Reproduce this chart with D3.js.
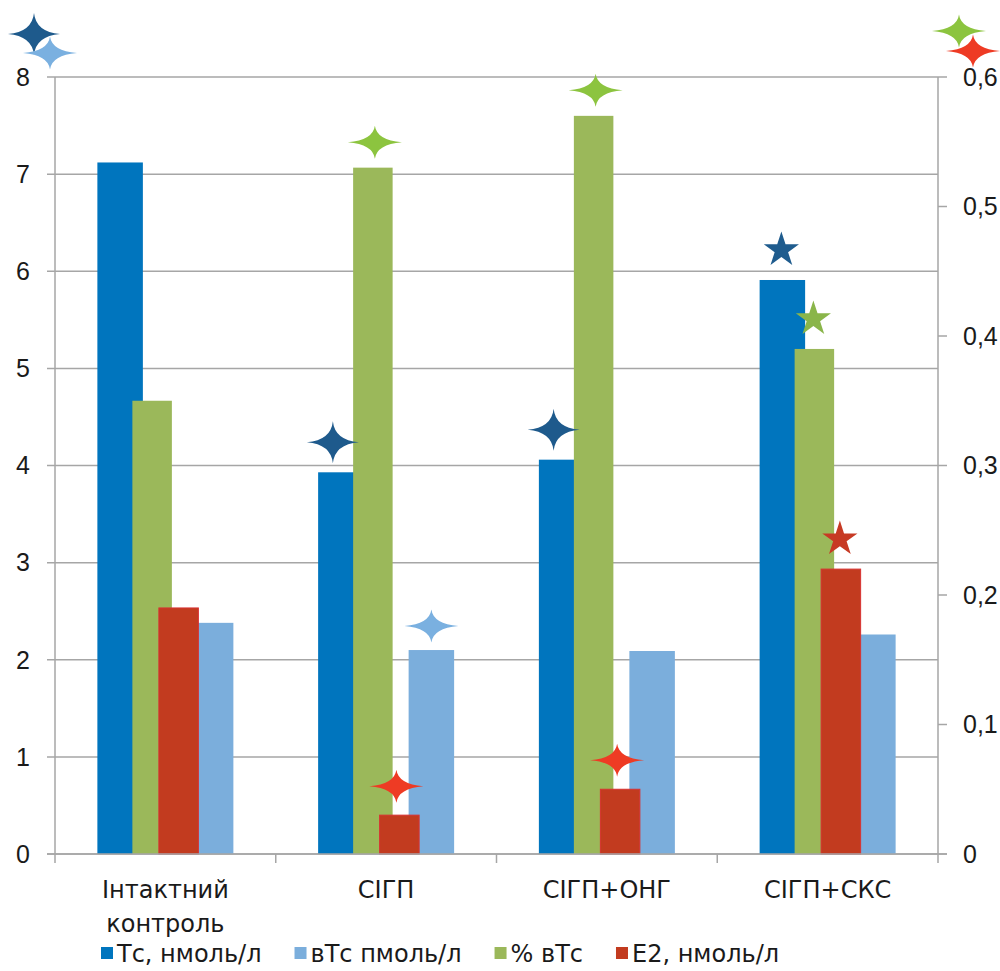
<!DOCTYPE html>
<html>
<head>
<meta charset="utf-8">
<script src="https://cdn.jsdelivr.net/npm/d3@7"></script>
<style>
  html, body { margin: 0; padding: 0; background: #fff; }
  #chart text { font-family: "Liberation Sans", Arial, sans-serif; }
  #chart .wide text { font-family: "DejaVu Sans", "Liberation Sans", sans-serif; }
</style>
</head>
<body>
<svg id="chart" width="1000" height="971"></svg>
<script>
// Groups and their two-line captions
const categories = ["Інтактний контроль", "СІГП", "СІГП+ОНГ", "СІГП+СКС"];
const categoryLines = [["Інтактний", "контроль"], ["СІГП"], ["СІГП+ОНГ"], ["СІГП+СКС"]];

// Left axis series
const tcValues  = [7.12, 3.93, 4.06, 5.91];   // Тс, нмоль/л
const vtcValues = [2.38, 2.10, 2.09, 2.26];   // вТс, пмоль/л
// Right axis series
const pctValues = [0.35, 0.53, 0.57, 0.39];   // % вТс
const e2Values  = [0.19, 0.03, 0.05, 0.22];   // Е2, нмоль/л

const leftTicks  = [0, 1, 2, 3, 4, 5, 6, 7, 8];
const rightTicks = [0, 0.1, 0.2, 0.3, 0.4, 0.5, 0.6];

const legendLabels = ["Тс, нмоль/л", "вТс пмоль/л", "% вТс", "Е2, нмоль/л"];
const legendKeys   = ["tc", "vtc", "pct", "e2"];

// Significance marks placed over bars: group index, series, glyph
const marks = [
  { cat: 1, series: "tc",  glyph: "sparkle" },
  { cat: 1, series: "pct", glyph: "sparkle" },
  { cat: 1, series: "e2",  glyph: "sparkle" },
  { cat: 1, series: "vtc", glyph: "sparkle" },
  { cat: 2, series: "tc",  glyph: "sparkle" },
  { cat: 2, series: "pct", glyph: "sparkle" },
  { cat: 2, series: "e2",  glyph: "sparkle" },
  { cat: 3, series: "tc",  glyph: "star" },
  { cat: 3, series: "pct", glyph: "star" },
  { cat: 3, series: "e2",  glyph: "star" }
];

const values = { tc: tcValues, vtc: vtcValues, pct: pctValues, e2: e2Values };

const barColor = { tc: "#0075BE", vtc: "#7BAEDC", pct: "#9BB85A", e2: "#C23B1F" };
const sparkleColor = { tc: "#1E5A8C", vtc: "#7AB0E0", pct: "#8CC43F", e2: "#EE3B24" };
const starColor = { tc: "#1F5C8E", pct: "#8AB54A", e2: "#C73A24" };

const svg = d3.select("#chart");
const margin = { left: 55, right: 62, top: 77, bottom: 117 };
const W = 1000, H = 971;
const x0 = margin.left, x1 = W - margin.right;
const yTop = margin.top, yBot = H - margin.bottom;

const x = d3.scaleBand().domain(categories).range([x0, x1]).padding(0);
const bw = x.bandwidth();
const yL = d3.scaleLinear().domain([0, 8]).range([yBot, yTop]);
const yR = d3.scaleLinear().domain([0, 0.6]).range([yBot, yTop]);

// Left-axis series sit apart; right-axis series overlap in the middle
const primary = ["tc", "vtc"];
const secondary = ["pct", "e2"];
const primaryPos = d3.scalePoint().domain(primary).range([bw / 2 - 45.25, bw / 2 + 45.25]);
const secondaryPos = d3.scalePoint().domain(secondary).range([bw / 2 - 13.25, bw / 2 + 13.25]);
const primaryW = 45.5, secondaryW = 39.5;

function barCenter(series, i) {
  const base = x(categories[i]);
  return primary.includes(series) ? base + primaryPos(series) : base + secondaryPos(series);
}
function barTop(series, i) {
  return primary.includes(series) ? yL(values[series][i]) : yR(values[series][i]);
}
function barWidth(series) { return primary.includes(series) ? primaryW : secondaryW; }

const gridColor = "#A6A6A6";

// Gridlines
svg.append("g").selectAll("line").data(leftTicks).join("line")
  .attr("x1", x0 - 8).attr("x2", x1)
  .attr("y1", d => yL(d)).attr("y2", d => yL(d))
  .attr("stroke", gridColor).attr("stroke-width", 1.5);

// Bars
const drawOrder = ["tc", "vtc", "pct", "e2"];
drawOrder.forEach(s => {
  svg.append("g").selectAll("rect").data(values[s]).join("rect")
    .attr("x", (d, i) => barCenter(s, i) - barWidth(s) / 2)
    .attr("width", barWidth(s))
    .attr("y", (d, i) => barTop(s, i))
    .attr("height", (d, i) => yBot - barTop(s, i))
    .attr("fill", barColor[s])
    .attr("stroke", s === "e2" ? "#D83232" : "none")
    .attr("stroke-width", s === "e2" ? 1 : 0);
});

// Axis lines and ticks
const axisG = svg.append("g").attr("stroke", gridColor).attr("stroke-width", 1.5);
axisG.append("line").attr("x1", x0).attr("x2", x0).attr("y1", yTop).attr("y2", yBot + 9);
axisG.append("line").attr("x1", x1).attr("x2", x1).attr("y1", yTop).attr("y2", yBot + 9);
axisG.append("line").attr("x1", x0 - 8).attr("x2", x1 + 9).attr("y1", yBot).attr("y2", yBot);
axisG.selectAll(".rt").data(rightTicks).join("line")
  .attr("x1", x1).attr("x2", x1 + 9)
  .attr("y1", d => yR(d)).attr("y2", d => yR(d));
axisG.selectAll(".ct").data(categories.slice(1)).join("line")
  .attr("x1", d => x(d)).attr("x2", d => x(d))
  .attr("y1", yBot).attr("y2", yBot + 9);

// Tick labels
const fmtR = d => d === 0 ? "0" : d3.format(".1f")(d).replace(".", ",");
svg.append("g").selectAll("text").data(leftTicks).join("text")
  .attr("x", x0 - 25).attr("y", d => yL(d)).attr("dy", "0.35em")
  .attr("text-anchor", "end").attr("font-size", 25).attr("fill", "#1a1a1a")
  .text(d => d);
svg.append("g").selectAll("text").data(rightTicks).join("text")
  .attr("x", x1 + 25).attr("y", d => yR(d)).attr("dy", "0.35em")
  .attr("text-anchor", "start").attr("font-size", 25).attr("fill", "#1a1a1a")
  .text(fmtR);

// Category captions
const capG = svg.append("g").attr("class", "wide").attr("font-size", 24)
  .attr("fill", "#1a1a1a").attr("text-anchor", "middle");
categories.forEach((c, i) => {
  const t = capG.append("text").attr("x", x(c) + bw / 2).attr("y", yBot + 44);
  categoryLines[i].forEach((ln, k) => {
    t.append("tspan").attr("x", x(c) + bw / 2).attr("dy", k === 0 ? 0 : 34).text(ln);
  });
});

// Legend
const legG = svg.append("g").attr("class", "wide").attr("font-size", 24).attr("fill", "#1a1a1a");
let lx = 101;
const ly = H - 9;
legendKeys.forEach((k, i) => {
  legG.append("rect").attr("x", lx).attr("y", ly - 15).attr("width", 12).attr("height", 12)
    .attr("fill", barColor[k]);
  const t = legG.append("text").attr("x", lx + 16).attr("y", ly).text(legendLabels[i]);
  lx += 16 + t.node().getComputedTextLength() + 33;
});

// Glyph paths
function sparklePath(cx, cy, rx, ry, k) {
  return `M${cx - rx},${cy} Q${cx - k},${cy - k} ${cx},${cy - ry} ` +
         `Q${cx + k},${cy - k} ${cx + rx},${cy} ` +
         `Q${cx + k},${cy + k} ${cx},${cy + ry} ` +
         `Q${cx - k},${cy + k} ${cx - rx},${cy} Z`;
}
function starPath(cx, cy, R) {
  const r = R * 0.382;
  const pts = d3.range(10).map(j => {
    const a = -Math.PI / 2 + j * Math.PI / 5;
    const rad = j % 2 === 0 ? R : r;
    return [cx + rad * Math.cos(a), cy + rad * Math.sin(a)];
  });
  return "M" + pts.map(p => p.join(",")).join("L") + "Z";
}
const sparkleSize = { tc: [26, 21], vtc: [27, 16.5], pct: [27, 16.5], e2: [27, 16.5] };
const sparkleGap  = { tc: 30, vtc: 24, pct: 25.5, e2: 29 };
const sparkleShift = { tc: -8, vtc: 0, pct: 2, e2: -3 };

const markG = svg.append("g");
marks.forEach(m => {
  const cx = barCenter(m.series, m.cat);
  const top = barTop(m.series, m.cat);
  if (m.glyph === "sparkle") {
    const [rx, ry] = sparkleSize[m.series];
    markG.append("path")
      .attr("d", sparklePath(cx + sparkleShift[m.series], top - sparkleGap[m.series], rx, ry, 2))
      .attr("fill", sparkleColor[m.series]);
  } else {
    const R = 18.5;
    markG.append("path")
      .attr("d", starPath(cx - 1, top - 15 - R * 0.81, R))
      .attr("fill", starColor[m.series]);
  }
});

// Series keys beside the top of each axis
const cornerMarks = [
  { series: "tc",  ax: x0, dx: -21, dy: -43 },
  { series: "vtc", ax: x0, dx: -5,  dy: -24 },
  { series: "pct", ax: x1, dx: 21,  dy: -46 },
  { series: "e2",  ax: x1, dx: 35,  dy: -26 }
];
cornerMarks.forEach(c => {
  const [rx, ry] = sparkleSize[c.series];
  markG.append("path")
    .attr("d", sparklePath(c.ax + c.dx, yTop + c.dy, rx, ry, 2))
    .attr("fill", sparkleColor[c.series]);
});
</script>
</body>
</html>
